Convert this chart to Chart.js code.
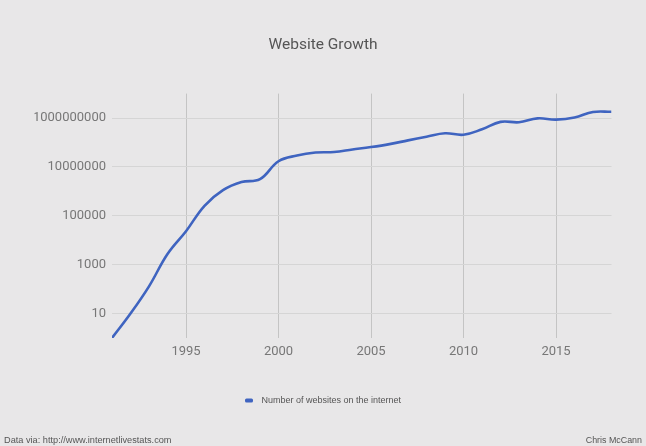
<!DOCTYPE html>
<html>
<head>
<meta charset="utf-8">
<script src="https://cdn.jsdelivr.net/npm/chart.js@4.4.1/dist/chart.umd.min.js"></script>
<style>
  html, body { margin: 0; padding: 0; background: #e8e7e8; }
  #wrap { position: relative; width: 646px; height: 446px; background: #e8e7e8; }
  canvas { display: block; }
  .foot { position: absolute; bottom: 1px; font-family: "Liberation Sans", Arial, sans-serif; font-size: 9.2px; color: #555; }
  #src { left: 4px; }
  #auth { right: 4px; font-size: 8.9px; }
</style>
</head>
<body>
<div id="wrap">
  <canvas id="c" width="646" height="446"></canvas>
  <div class="foot" id="src">Data via: http://www.internetlivestats.com</div>
  <div class="foot" id="auth">Chris McCann</div>
</div>
<script>
const years = [1991,1992,1993,1994,1995,1996,1997,1998,1999,2000,2001,2002,2003,2004,2005,2006,2007,2008,2009,2010,2011,2012,2013,2014,2015,2016,2017,2018];
const websites = [1,10,130,2738,23500,257601,1117255,2410067,3177453,17087182,29254370,38760373,40912332,51611646,64780617,85507314,121892559,172338726,238027855,206956723,346004403,697089489,672985183,968882453,863105652,1045534808,1766926408,1805260010];
const xTicks = [1995,2000,2005,2010,2015];
const yTicks = [10,1000,100000,10000000,1000000000];
const seriesName = 'Number of websites on the internet';
const chartTitle = 'Website Growth';
const lineColor = '#3f64c0';

// legend marker: short rounded bar on the left of a wider transparent box
const marker = document.createElement('canvas');
marker.width = 12; marker.height = 5;
(function () {
  const m = marker.getContext('2d');
  m.fillStyle = lineColor;
  m.beginPath();
  if (m.roundRect) { m.roundRect(0, 0.5, 8, 4, 1.5); } else { m.rect(0, 0.5, 8, 4); }
  m.fill();
})();

new Chart(document.getElementById('c'), {
  type: 'line',
  data: {
    datasets: [{
      label: seriesName,
      data: years.map((y, i) => ({x: y, y: websites[i]})),
      borderColor: lineColor,
      backgroundColor: lineColor,
      borderWidth: 2.6,
      pointRadius: 0,
      tension: 0.4,
      fill: false
    }]
  },
  options: {
    responsive: false,
    animation: false,
    devicePixelRatio: 1,
    layout: { padding: { left: 34.5, right: 34.5, top: 0, bottom: 31 } },
    plugins: {
      title: {
        display: true,
        text: chartTitle,
        color: '#555',
        font: { family: 'Roboto', size: 15.5, weight: 'normal' },
        padding: { top: 36, bottom: 39 }
      },
      legend: {
        display: true,
        position: 'bottom',
        labels: {
          color: '#555',
          font: { family: '"Liberation Sans", Arial', size: 9 },
          usePointStyle: true,
          pointStyle: marker,
          pointStyleWidth: 12,
          boxHeight: 5,
          padding: 10
        }
      },
      tooltip: { enabled: false }
    },
    scales: {
      x: {
        type: 'linear',
        min: 1991,
        max: 2018,
        afterBuildTicks: s => { s.ticks = xTicks.map(v => ({value: v})); },
        afterFit: s => { s.height = 48; },
        grid: { color: '#c4c4c4', drawTicks: false, lineWidth: 1 },
        border: { display: false },
        ticks: {
          color: '#777',
          font: { family: 'Roboto', size: 13 },
          padding: 6,
          maxRotation: 0,
          callback: v => String(v)
        }
      },
      y: {
        type: 'logarithmic',
        min: 1,
        max: 10000000000,
        afterBuildTicks: s => { s.ticks = yTicks.map(v => ({value: v})); },
        afterFit: s => { s.width = 77.5; },
        grid: { color: '#d5d5d5', drawTicks: false, lineWidth: 1 },
        border: { display: false },
        ticks: {
          color: '#777',
          font: { family: 'Roboto', size: 13 },
          padding: 6,
          callback: v => String(v)
        }
      }
    }
  }
});
</script>
</body>
</html>
